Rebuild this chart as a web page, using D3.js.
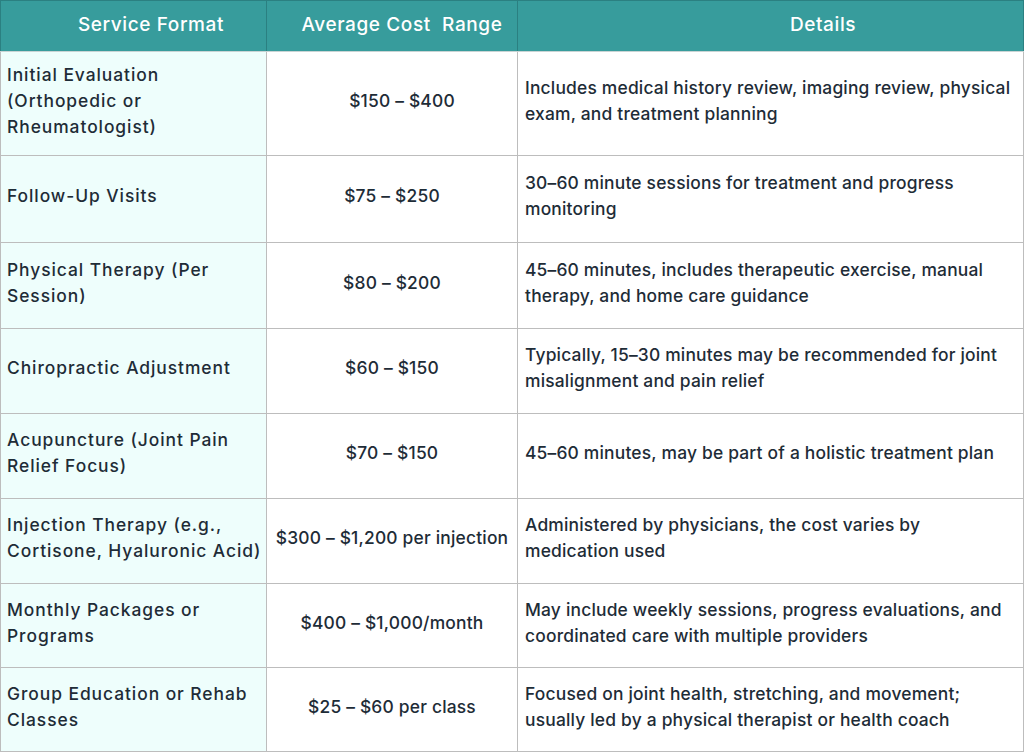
<!DOCTYPE html>
<html>
<head>
<meta charset="utf-8">
<script src="https://cdn.jsdelivr.net/npm/d3@7"></script>
<style>
  html, body { margin: 0; padding: 0; background: #fff; }
  svg { display: block; }
  text { font-family: "Inter", "Lato", sans-serif; }
</style>
</head>
<body>
<div id="chart"></div>
<script>
// table contents
const headers = ["Service Format", "Average Cost  Range", "Details"];

const services = [
  ["Initial Evaluation", "(Orthopedic or", "Rheumatologist)"],
  ["Follow-Up Visits"],
  ["Physical Therapy (Per", "Session)"],
  ["Chiropractic Adjustment"],
  ["Acupuncture (Joint Pain", "Relief Focus)"],
  ["Injection Therapy (e.g.,", "Cortisone, Hyaluronic Acid)"],
  ["Monthly Packages or", "Programs"],
  ["Group Education or Rehab", "Classes"]
];

const costs = [
  "$150 \u2013 $400",
  "$75 \u2013 $250",
  "$80 \u2013 $200",
  "$60 \u2013 $150",
  "$70 \u2013 $150",
  "$300 \u2013 $1,200 per injection",
  "$400 \u2013 $1,000/month",
  "$25 \u2013 $60 per class"
];

const details = [
  ["Includes medical history review, imaging review, physical", "exam, and treatment planning"],
  ["30\u201360 minute sessions for treatment and progress", "monitoring"],
  ["45\u201360 minutes, includes therapeutic exercise, manual", "therapy, and home care guidance"],
  ["Typically, 15\u201330 minutes may be recommended for joint", "misalignment and pain relief"],
  ["45\u201360 minutes, may be part of a holistic treatment plan"],
  ["Administered by physicians, the cost varies by", "medication used"],
  ["May include weekly sessions, progress evaluations, and", "coordinated care with multiple providers"],
  ["Focused on joint health, stretching, and movement;", "usually led by a physical therapist or health coach"]
];

// layout
const width = 1024, height = 752;
const colEdges = [0, 266, 517, 1024];
const headerH = 51;
const rowEdges = [51, 155, 242, 328, 413, 498, 583, 667, 751];
const headCenters = [151, 402, 823];
const costNudge = [10, 0, 0, 0, 0, 0, 0, 0]; // first cost cell sits a bit right in the original
const lineH = 26;
const fontSize = 17.4;

const svg = d3.select("#chart").append("svg")
  .attr("width", width)
  .attr("height", height);

// header band
svg.append("rect")
  .attr("x", 0).attr("y", 0)
  .attr("width", width).attr("height", headerH)
  .attr("fill", "#379c9c");

svg.selectAll(".head")
  .data(headers)
  .join("text")
  .attr("class", "head")
  .attr("x", (d, i) => headCenters[i])
  .attr("y", headerH / 2 - 1)
  .attr("dy", "0.36em")
  .attr("text-anchor", "middle")
  .attr("fill", "#fff")
  .attr("font-size", 19)
  .attr("font-weight", 500)
  .attr("letter-spacing", 0.6)
  .style("white-space", "pre")
  .text(d => d);

// first column tint
svg.append("rect")
  .attr("x", 0).attr("y", headerH)
  .attr("width", colEdges[1]).attr("height", rowEdges[rowEdges.length - 1] - headerH)
  .attr("fill", "#eefefc");

// grid lines in body
const grid = svg.append("g").attr("stroke", "#bdbdbd").attr("stroke-width", 1);
grid.selectAll(".hl")
  .data(rowEdges.slice(1))
  .join("line")
  .attr("x1", 0).attr("x2", width)
  .attr("y1", d => d + 0.5).attr("y2", d => d + 0.5);
grid.selectAll(".vl")
  .data(colEdges)
  .join("line")
  .attr("x1", d => Math.min(d, width - 1) + 0.5).attr("x2", d => Math.min(d, width - 1) + 0.5)
  .attr("y1", headerH).attr("y2", rowEdges[rowEdges.length - 1]);

// header dividers
const hg = svg.append("g").attr("stroke", "#2b8081").attr("stroke-width", 1);
hg.selectAll("line")
  .data(colEdges)
  .join("line")
  .attr("x1", d => Math.min(d, width - 1) + 0.5).attr("x2", d => Math.min(d, width - 1) + 0.5)
  .attr("y1", 0).attr("y2", headerH);
hg.append("line")
  .attr("x1", 0).attr("x2", width)
  .attr("y1", 0.5).attr("y2", 0.5);
svg.append("line")
  .attr("x1", 0).attr("x2", width)
  .attr("y1", headerH + 0.5).attr("y2", headerH + 0.5)
  .attr("stroke", "#c9d4d4");

// multi-line cell writer
function cell(lines, x, top, bottom, anchor, spacing) {
  const mid = (top + bottom) / 2 - 2.5;
  const y0 = mid - (lines.length - 1) * lineH / 2;
  const t = svg.append("text")
    .attr("font-size", fontSize)
    .attr("font-weight", 500)
    .attr("letter-spacing", spacing)
    .attr("fill", "#1e2c37")
    .attr("text-anchor", anchor);
  t.selectAll("tspan")
    .data(lines)
    .join("tspan")
    .attr("x", x)
    .attr("y", (d, i) => y0 + i * lineH)
    .attr("dy", "0.36em")
    .text(d => d);
}

rowEdges.slice(0, -1).forEach((top, i) => {
  const bottom = rowEdges[i + 1];
  cell(services[i], 7, top, bottom, "start", 0.95);
  cell([costs[i]], 392 + costNudge[i], top, bottom, "middle", 0.2);
  cell(details[i], 525, top, bottom, "start", 0.2);
});
</script>
</body>
</html>
